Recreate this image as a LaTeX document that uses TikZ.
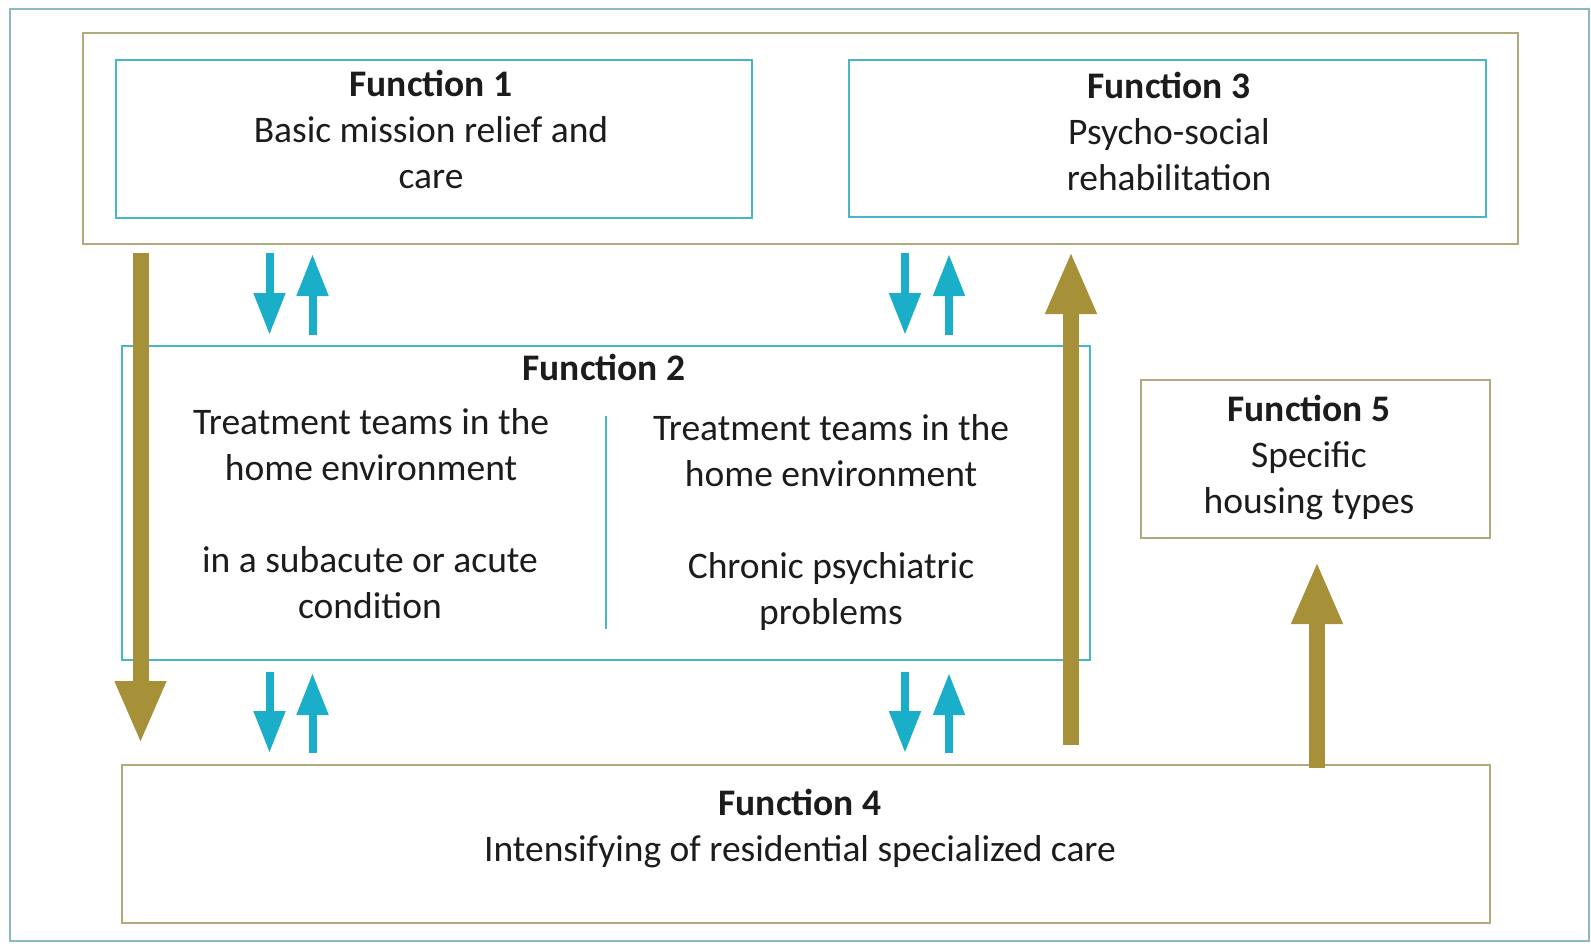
\documentclass[tikz,border=0pt]{standalone}
\usepackage{fontspec}
\setmainfont{Carlito}
\usetikzlibrary{arrows.meta}

\definecolor{framegray}{RGB}{138,186,190}
\definecolor{boxteal}{RGB}{72,182,198}
\definecolor{boxkhaki}{RGB}{176,170,124}
\definecolor{flowtan}{RGB}{166,145,56}
\definecolor{flowcyan}{RGB}{26,174,200}
\definecolor{inktext}{RGB}{28,28,28}

\tikzset{
  tealbox/.style={draw=boxteal, line width=2pt, inner sep=0pt, outer sep=0pt},
  khakibox/.style={draw=boxkhaki, line width=2pt, inner sep=0pt, outer sep=0pt},
  framebox/.style={draw=framegray, line width=2pt, inner sep=0pt, outer sep=0pt},
  % base anchor of a two-line block sits on its last line
  txt/.style={align=center, anchor=base, inner sep=0pt, text=inktext,
              font=\fontsize{37.5}{46.5}\selectfont},
  head/.style={txt, font=\fontsize{37.5}{46.5}\selectfont\bfseries},
  tanflow/.style={draw=flowtan, line width=16pt,
                  -{Triangle[length=63pt, width=47pt]}},
  cyanflow/.style={draw=flowcyan, line width=8pt,
                   -{Triangle[length=42pt, width=30pt]}},
}

\begin{document}
\begin{tikzpicture}[x=1pt, y=-1pt]
  \useasboundingbox (0,0) rectangle (1591,943);

  % outer frame and the group holding functions 1 and 3
  \node[framebox, minimum width=1579pt, minimum height=932pt] (frame) at (799.5,475) {};
  \node[khakibox, minimum width=1435pt, minimum height=211pt] (top) at (800.5,138.5) {};

  % function boxes
  \node[tealbox, minimum width=636pt, minimum height=158pt] (f1) at (434,139) {};
  \node[tealbox, minimum width=637pt, minimum height=157pt] (f3) at (1167.5,138.5) {};
  \node[tealbox, minimum width=968pt, minimum height=314pt] (f2) at (606,503) {};
  \node[khakibox, minimum width=349pt, minimum height=158pt] (f5) at (1315.5,459) {};
  \node[khakibox, minimum width=1368pt, minimum height=158pt] (f4) at (806,844) {};

  % divider between the two halves of function 2
  \coordinate (divtop) at (606,416);
  \coordinate (divbot) at (606,629);
  \draw[boxteal, line width=1.5pt] (divtop) -- (divbot);

  % texts
  \node[head] (t1) at (431,96) {Function 1};
  \node[txt] (t1b) at (431,188.5) {Basic mission relief and\\care};

  \node[head] (t3) at (1169,98) {Function 3};
  \node[txt] (t3b) at (1169,190.5) {Psycho-social\\rehabilitation};

  \node[head] (t2) at (604,380) {Function 2};
  \node[txt] (t2a) at (371,480.5) {Treatment teams in the\\home environment};
  \node[txt] (t2b) at (370,618.5) {in a subacute or acute\\condition};
  \node[txt] (t2c) at (831,486.5) {Treatment teams in the\\home environment};
  \node[txt] (t2d) at (831,624.5) {Chronic psychiatric\\problems};

  \node[head] (t5) at (1309,421) {Function 5};
  \node[txt] (t5b) at (1309,513.5) {Specific\\housing types};

  \node[head] (t4) at (800,815) {Function 4};
  \node[txt] (t4b) at (800,861) {Intensifying of residential specialized care};

  % end points of the flow arrows
  \coordinate (ldown0) at (140.5,253);  \coordinate (ldown1) at (140.5,744);
  \coordinate (mup0)   at (1071,745);   \coordinate (mup1)   at (1071,251);
  \coordinate (rup0)   at (1317,768);   \coordinate (rup1)   at (1317,561);

  \coordinate (a0) at (269.5,253); \coordinate (a1) at (269.5,335);
  \coordinate (b0) at (312.5,335); \coordinate (b1) at (312.5,254);
  \coordinate (c0) at (905,253);   \coordinate (c1) at (905,335);
  \coordinate (d0) at (949,335);   \coordinate (d1) at (949,254);

  \coordinate (e0) at (269.5,672); \coordinate (e1) at (269.5,753);
  \coordinate (g0) at (312.5,753); \coordinate (g1) at (312.5,673);
  \coordinate (h0) at (905,672);   \coordinate (h1) at (905,753);
  \coordinate (k0) at (949,753);   \coordinate (k1) at (949,673);

  % large flows
  \draw[tanflow] (ldown0) -- (ldown1);
  \draw[tanflow] (mup0) -- (mup1);
  \draw[tanflow] (rup0) -- (rup1);

  % exchange arrows
  \draw[cyanflow] (a0) -- (a1);
  \draw[cyanflow] (b0) -- (b1);
  \draw[cyanflow] (c0) -- (c1);
  \draw[cyanflow] (d0) -- (d1);
  \draw[cyanflow] (e0) -- (e1);
  \draw[cyanflow] (g0) -- (g1);
  \draw[cyanflow] (h0) -- (h1);
  \draw[cyanflow] (k0) -- (k1);
\end{tikzpicture}
\end{document}
